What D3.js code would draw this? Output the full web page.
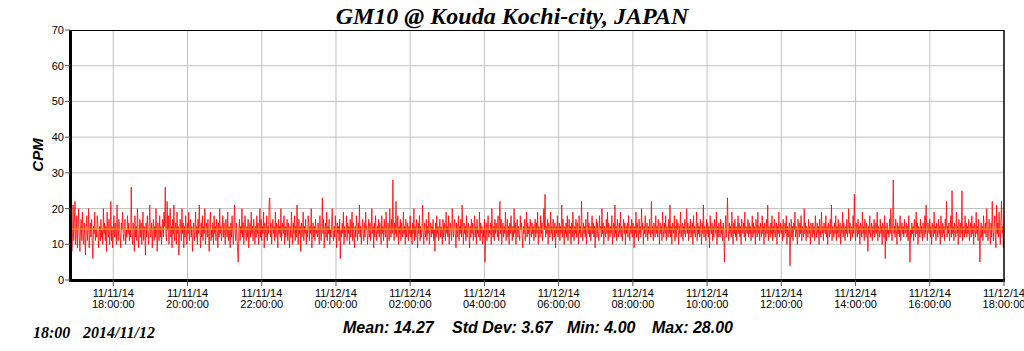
<!DOCTYPE html>
<html lang="en">
<head>
  <meta charset="UTF-8">
  <title>GM10 @ Kouda Kochi-city, JAPAN</title>
  <script src="https://d3js.org/d3.v7.min.js"></script>
  <style>
    body {
      margin: 0;
      background: #fff;
    }
    svg {
      display: block;
      font-family: "Liberation Sans", Arial, sans-serif;
    }
  </style>
</head>
<body>
  <svg width="1024" height="351"></svg>

  <script>
    const titleText = "GM10 @ Kouda Kochi-city, JAPAN";
    const stampText = ["18:00", "2014/11/12"];
    const statsText = ["Mean: 14.27", "Std Dev: 3.67", "Min: 4.00", "Max: 28.00"];
    const meanCpm = 14.27;
    const yTicks = [0, 10, 20, 30, 40, 50, 60, 70];
    const timeStart = new Date(2014, 10, 11, 16, 50);
    const timeEnd = new Date(2014, 10, 12, 18, 0);

    // one reading per minute from 16:50
    const cpm = [
      14,9,17,8,12,21,11,16,22,10,13,18,9,15,20,12,8,14,17,11,19,13,10,16,12,7,15,18,11,14,20,9,13,16,12,17,10,6,15,13,19,11,14,12,18,16,9,13,15,11,
      17,12,14,10,20,13,16,11,15,8,19,14,12,17,10,13,22,11,15,9,14,18,12,16,13,10,21,14,11,17,15,12,9,16,14,19,13,11,15,17,10,14,12,18,13,16,11,14,12,26,
      13,10,16,14,8,18,12,15,11,20,14,9,13,17,12,16,10,14,19,11,15,13,7,16,12,18,14,10,15,21,12,13,16,9,14,17,11,15,12,20,13,8,16,14,11,18,12,15,10,14,
      17,12,19,15,26,13,11,22,14,18,10,16,20,12,15,9,17,13,21,11,14,16,10,19,13,15,7,12,17,14,11,20,13,16,9,15,12,18,14,10,16,13,19,11,14,17,12,15,8,13,
      16,11,14,19,12,15,10,17,13,21,14,9,16,12,18,11,15,13,20,10,14,16,12,17,13,8,15,19,11,14,12,16,10,18,13,15,11,17,14,9,16,12,20,13,15,11,14,18,12,16,
      13,10,17,14,12,19,11,15,13,9,16,12,18,14,10,15,21,13,11,16,12,8,5,14,17,11,15,13,20,12,16,10,14,18,13,11,15,12,17,9,14,16,12,19,13,15,11,17,14,10,
      15,12,18,13,16,10,14,20,12,17,11,15,13,19,9,16,14,12,18,11,15,13,22,23,12,16,10,14,17,13,15,11,19,12,16,14,9,17,13,15,12,20,11,14,16,13,18,10,15,12,
      14,17,11,16,13,9,15,12,19,14,10,16,13,18,11,15,12,21,14,10,17,13,15,8,16,12,14,19,11,15,13,17,10,14,12,18,16,11,15,13,20,9,14,16,12,15,11,17,13,14,
      12,16,13,10,18,14,11,15,23,13,17,9,14,16,12,19,11,15,13,17,10,14,12,16,20,13,11,15,12,18,14,9,16,13,15,11,17,6,14,12,16,13,19,10,15,12,14,18,11,16,
      13,15,10,17,12,14,19,11,16,13,9,15,12,18,14,11,16,13,21,12,15,10,14,17,13,11,16,12,19,14,15,10,13,17,12,16,11,14,20,13,15,9,16,12,18,14,11,15,13,17,
      12,16,14,10,18,13,15,11,17,14,12,19,13,9,16,15,11,20,14,12,17,13,28,15,11,16,13,22,12,14,18,10,15,13,17,11,16,14,12,19,13,15,10,17,12,14,16,11,15,13,
      18,12,14,10,16,13,20,11,15,12,17,14,9,16,13,18,11,15,12,14,21,13,10,16,14,12,17,11,15,13,19,10,14,16,12,15,13,17,11,14,8,16,12,18,13,15,11,14,17,12,
      15,13,10,17,12,16,14,11,19,13,15,12,18,10,14,16,13,11,20,14,12,15,17,13,9,16,12,14,18,11,15,13,17,12,21,14,10,16,13,15,11,18,12,14,16,13,9,15,12,17,
      13,16,11,14,18,12,15,10,17,13,14,12,19,11,16,13,15,10,14,12,17,5,13,16,11,15,18,12,14,13,16,10,20,14,12,15,11,17,13,16,14,12,18,11,15,22,13,17,10,14,
      16,12,15,13,19,11,14,17,12,15,10,16,13,18,14,11,15,12,20,13,16,10,14,17,12,15,13,11,18,14,16,12,9,15,13,17,11,14,19,12,16,13,15,10,17,14,12,16,13,15,
      11,14,17,12,16,13,19,10,15,14,12,18,13,16,11,15,20,14,24,12,15,13,17,10,16,14,12,19,13,15,11,17,14,12,16,9,15,13,18,12,14,16,11,15,13,21,12,17,14,10,
      15,13,16,12,18,11,14,17,13,15,10,16,12,19,14,11,15,13,17,12,16,14,10,18,13,15,12,22,14,11,16,13,15,12,17,10,14,19,13,16,12,15,11,14,18,13,16,12,15,9,
      14,17,12,16,13,11,18,14,15,12,20,13,16,10,15,14,12,17,13,19,11,16,14,12,15,13,18,10,14,16,12,21,13,15,11,17,14,12,16,13,19,12,15,11,14,17,13,16,10,15,
      13,16,12,18,14,11,15,13,17,12,16,14,9,15,13,19,12,16,14,11,17,13,15,12,20,14,16,10,15,13,18,12,14,16,11,15,13,17,14,12,22,13,15,11,16,14,12,18,13,15,
      12,17,14,10,16,13,15,11,19,14,12,16,13,18,11,15,14,12,17,13,21,12,15,10,16,14,13,18,11,15,12,17,14,16,10,15,13,19,12,14,16,11,15,13,17,12,14,20,13,16,
      11,15,13,17,12,14,16,10,18,13,15,12,14,19,11,16,13,15,12,17,14,10,16,13,21,12,15,14,11,17,13,16,12,15,9,18,14,13,16,11,15,12,17,14,13,19,10,15,12,16,
      14,12,17,13,15,11,16,14,5,13,18,12,15,23,14,11,16,13,15,12,19,14,10,16,13,17,12,15,11,14,18,13,16,12,15,10,17,14,13,16,12,19,11,15,14,13,17,12,16,13,
      15,11,14,18,12,16,13,15,10,17,14,12,19,13,15,11,16,14,12,18,13,15,10,16,14,12,17,13,21,11,15,14,12,16,13,18,11,15,13,17,12,14,16,10,15,13,19,12,14,16,
      13,15,11,17,12,14,16,13,18,10,15,12,14,16,4,13,17,12,15,11,16,14,19,12,15,13,10,17,14,12,16,13,18,11,15,14,12,20,13,16,11,15,14,12,17,13,15,10,16,14,
      12,16,13,15,11,18,14,12,16,13,15,10,17,14,12,19,13,15,11,16,14,13,18,12,15,10,16,14,12,17,13,21,11,15,14,12,16,13,18,11,15,13,17,12,14,16,10,15,13,19,
      12,16,14,11,15,13,17,12,14,20,13,16,11,15,14,12,18,13,24,15,11,16,14,12,17,13,15,10,16,14,12,19,13,15,11,17,14,12,16,13,8,15,13,18,12,14,16,11,15,13,
      17,12,14,16,13,19,11,15,14,12,17,13,15,10,16,14,12,18,6,15,11,16,13,14,12,17,13,20,14,11,16,28,13,15,12,17,14,10,16,13,15,12,18,11,14,16,13,15,12,17,
      13,14,16,12,15,11,18,13,5,14,12,16,13,15,11,17,14,12,19,13,16,10,15,14,12,17,13,15,11,16,14,12,18,13,21,15,11,16,14,13,17,12,15,10,16,14,12,19,13,15,
      11,16,14,12,17,13,15,10,18,14,12,16,13,15,11,17,14,22,12,15,13,16,11,14,18,12,25,13,15,11,16,14,12,19,13,15,10,17,14,12,16,13,25,11,15,14,12,18,13,16,
      12,15,13,17,11,14,16,12,18,13,15,10,16,14,12,19,13,15,11,17,14,5,13,16,12,15,11,18,14,13,16,12,20,15,11,14,17,13,10,16,12,22,14,11,15,18,12,9,21,13,
      16,12,19,14,10,17,22,13,15,9,12
    ];

    const svg = d3.select("svg"),
          width = +svg.attr("width"),
          height = +svg.attr("height");

    const plotLeft = 70, plotRight = 1004, plotTop = 30, plotBottom = 280;

    const x = d3.scaleTime()
                .domain([timeStart, timeEnd])
                .range([plotLeft, plotRight]);

    const y = d3.scaleLinear()
                .domain([0, 70])
                .range([plotBottom, plotTop]);

    const xTicks = x.ticks(d3.timeHour.every(2));
    const fmtDate = d3.timeFormat("%m/%d/%y");
    const fmtTime = d3.timeFormat("%H:%M:%S");

    // grid
    svg.append("g")
      .selectAll("line")
      .data(xTicks.filter(t => x(t) < plotRight - 1))
      .enter().append("line")
        .attr("x1", d => x(d)).attr("x2", d => x(d))
        .attr("y1", plotTop).attr("y2", plotBottom)
        .attr("stroke", "#c0c0c0");

    svg.append("g")
      .selectAll("line")
      .data(yTicks.filter(v => v > 0 && v < 70))
      .enter().append("line")
        .attr("x1", plotLeft).attr("x2", plotRight)
        .attr("y1", d => y(d)).attr("y2", d => y(d))
        .attr("stroke", "#c0c0c0");

    // data
    svg.append("clipPath").attr("id", "plot")
      .append("rect")
        .attr("x", plotLeft).attr("y", plotTop)
        .attr("width", plotRight - plotLeft).attr("height", plotBottom - plotTop);

    const line = d3.line()
      .x((d, i) => x(d3.timeMinute.offset(timeStart, i)))
      .y(d => y(d));

    svg.append("path")
      .datum(cpm)
      .attr("clip-path", "url(#plot)")
      .attr("d", line)
      .attr("fill", "none")
      .attr("stroke", "#ff0000")
      .attr("stroke-width", 0.8);

    svg.append("line")
      .attr("x1", plotLeft).attr("x2", plotRight)
      .attr("y1", y(meanCpm)).attr("y2", y(meanCpm))
      .attr("stroke", "#c8b400")
      .attr("stroke-width", 1);

    // frame
    svg.append("line")
      .attr("x1", plotLeft).attr("x2", plotRight).attr("y1", plotTop + 0.5).attr("y2", plotTop + 0.5)
      .attr("stroke", "#000");
    svg.append("line")
      .attr("x1", plotRight).attr("x2", plotRight).attr("y1", plotTop).attr("y2", plotBottom)
      .attr("stroke", "#000").attr("stroke-width", 1.5);
    svg.append("line")
      .attr("x1", plotLeft + 0.5).attr("x2", plotLeft + 0.5).attr("y1", plotTop).attr("y2", plotBottom + 2)
      .attr("stroke", "#000").attr("stroke-width", 3);
    svg.append("line")
      .attr("x1", plotLeft - 1).attr("x2", plotRight + 1).attr("y1", plotBottom + 0.5).attr("y2", plotBottom + 0.5)
      .attr("stroke", "#000").attr("stroke-width", 3);

    // y axis ticks
    const yAxis = svg.append("g").selectAll("g")
      .data(yTicks)
      .enter().append("g");
    yAxis.append("line")
      .attr("x1", plotLeft - 5).attr("x2", plotLeft)
      .attr("y1", d => y(d)).attr("y2", d => y(d))
      .attr("stroke", "#555");
    yAxis.append("text")
      .attr("x", plotLeft - 6)
      .attr("y", d => y(d) + 4)
      .attr("text-anchor", "end")
      .attr("font-size", 11)
      .text(d => d);

    // x axis ticks
    const xAxis = svg.append("g").selectAll("g")
      .data(xTicks)
      .enter().append("g");
    xAxis.append("line")
      .attr("x1", d => x(d)).attr("x2", d => x(d))
      .attr("y1", plotBottom).attr("y2", plotBottom + 6)
      .attr("stroke", "#555");
    const xLabel = xAxis.append("text")
      .attr("text-anchor", "middle")
      .attr("font-size", 11);
    xLabel.append("tspan")
      .attr("x", d => x(d)).attr("y", 297)
      .text(d => fmtDate(d));
    xLabel.append("tspan")
      .attr("x", d => x(d)).attr("y", 308)
      .text(d => fmtTime(d));

    // texts
    svg.append("text")
      .attr("x", 512).attr("y", 24)
      .attr("text-anchor", "middle")
      .attr("font-family", "'Liberation Serif', 'Times New Roman', serif")
      .attr("font-weight", "bold")
      .attr("font-style", "italic")
      .attr("font-size", 24)
      .text(titleText);

    svg.append("text")
      .attr("transform", "translate(43,155) rotate(-90)")
      .attr("text-anchor", "middle")
      .attr("font-weight", "bold")
      .attr("font-style", "italic")
      .attr("font-size", 15)
      .text("CPM");

    svg.append("g")
      .selectAll("text")
      .data(stampText)
      .enter().append("text")
        .attr("x", (d, i) => [33, 83][i])
        .attr("y", 338)
        .attr("font-family", "'Liberation Serif', 'Times New Roman', serif")
        .attr("font-weight", "bold")
        .attr("font-style", "italic")
        .attr("font-size", 16)
        .text(d => d);

    svg.append("g")
      .selectAll("text")
      .data(statsText)
      .enter().append("text")
        .attr("x", (d, i) => [343, 452, 567, 652][i])
        .attr("y", 333)
        .attr("font-weight", "bold")
        .attr("font-style", "italic")
        .attr("font-size", 16)
        .text(d => d);
  </script>
</body>
</html>
